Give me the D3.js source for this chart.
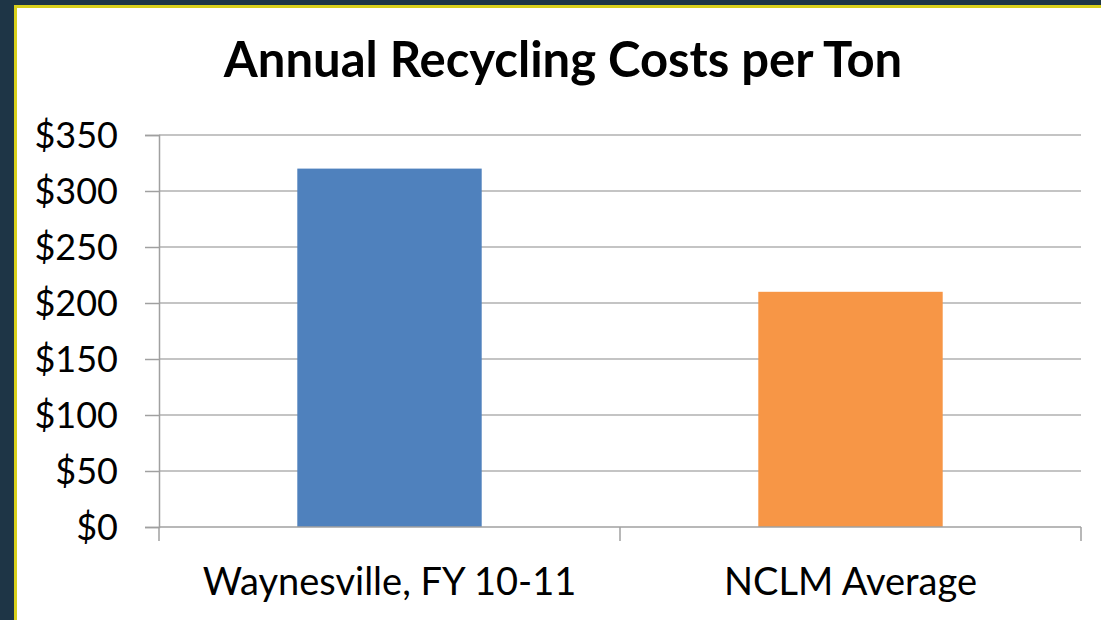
<!DOCTYPE html>
<html>
<head>
<meta charset="utf-8">
<script src="https://cdn.jsdelivr.net/npm/d3@7"></script>
<style>
  body { margin: 0; background: #1e3546; }
  svg { display: block; }
</style>
</head>
<body>
<div id="chart"></div>
<script>
// data
const categories = ["Waynesville, FY 10-11", "NCLM Average"];
const costs = [320, 210];
const barColors = ["#4f81bd", "#f79646"];
const yTicks = [0, 50, 100, 150, 200, 250, 300, 350];

const WIDTH = 1101, HEIGHT = 620;
const margin = { left: 159, right: 20, top: 135, bottom: 93 }; // plot box 159..1081, 135..527

const svg = d3.select("#chart").append("svg")
  .attr("width", WIDTH)
  .attr("height", HEIGHT);

// slide frame: navy bg, yellow rule, white panel
svg.append("rect").attr("width", WIDTH).attr("height", HEIGHT).attr("fill", "#1e3546");
svg.append("rect").attr("x", 14).attr("y", 5).attr("width", WIDTH).attr("height", HEIGHT).attr("fill", "#d8cf1c");
svg.append("rect").attr("x", 17).attr("y", 8).attr("width", WIDTH).attr("height", HEIGHT).attr("fill", "#ffffff");

const x = d3.scaleBand()
  .domain(categories)
  .range([margin.left, WIDTH - margin.right])
  .paddingInner(0.6)
  .paddingOuter(0.3);

const y = d3.scaleLinear()
  .domain([0, 350])
  .range([HEIGHT - margin.bottom, margin.top]);

// gridlines
svg.append("g")
  .selectAll("line")
  .data(yTicks.filter(d => d > 0))
  .enter()
  .append("line")
  .attr("x1", margin.left)
  .attr("x2", WIDTH - margin.right)
  .attr("y1", d => y(d))
  .attr("y2", d => y(d))
  .attr("stroke", "#b0b0b0")
  .attr("stroke-width", 1.5);

// bars
svg.append("g")
  .selectAll("rect")
  .data(costs)
  .enter()
  .append("rect")
  .attr("x", (d, i) => x(categories[i]))
  .attr("width", x.bandwidth())
  .attr("y", d => y(d))
  .attr("height", d => y(0) - y(d))
  .attr("fill", (d, i) => barColors[i]);

// y axis
const yAxis = svg.append("g")
  .attr("transform", `translate(${margin.left},0)`)
  .call(d3.axisLeft(y).tickValues(yTicks).tickFormat(d => "$" + d).tickSize(14).tickPadding(27));

yAxis.select(".domain").attr("stroke", "#a0a0a0").attr("stroke-width", 1.5);
yAxis.selectAll(".tick line").attr("stroke", "#a0a0a0").attr("stroke-width", 1.5);
yAxis.selectAll("text")
  .attr("font-family", "Lato, sans-serif")
  .attr("font-size", "36px")
  .attr("fill", "#000")
  .attr("dy", "0.36em");

// x axis: ticks sit on the band edges
const xAxisG = svg.append("g").attr("transform", `translate(0,${y(0)})`);
xAxisG.append("line")
  .attr("x1", margin.left).attr("x2", WIDTH - margin.right)
  .attr("stroke", "#a0a0a0").attr("stroke-width", 1.5);
xAxisG.selectAll(".edge")
  .data([0, 1, 2])
  .enter()
  .append("line")
  .attr("class", "edge")
  .attr("x1", i => margin.left + i * x.step())
  .attr("x2", i => margin.left + i * x.step())
  .attr("y1", 0).attr("y2", 14)
  .attr("stroke", "#a0a0a0").attr("stroke-width", 1.5);
xAxisG.selectAll(".label")
  .data(categories)
  .enter()
  .append("text")
  .attr("class", "label")
  .attr("x", d => x(d) + x.bandwidth() / 2)
  .attr("y", 68)
  .attr("text-anchor", "middle")
  .attr("font-family", "Lato, sans-serif")
  .attr("font-size", "38px")
  .attr("fill", "#000")
  .text(d => d);

// title
svg.append("text")
  .attr("x", 563)
  .attr("y", 77)
  .attr("text-anchor", "middle")
  .attr("font-family", "Lato, sans-serif")
  .attr("font-weight", "bold")
  .attr("font-size", "49px")
  .attr("fill", "#000")
  .text("Annual Recycling Costs per Ton");
</script>
</body>
</html>
